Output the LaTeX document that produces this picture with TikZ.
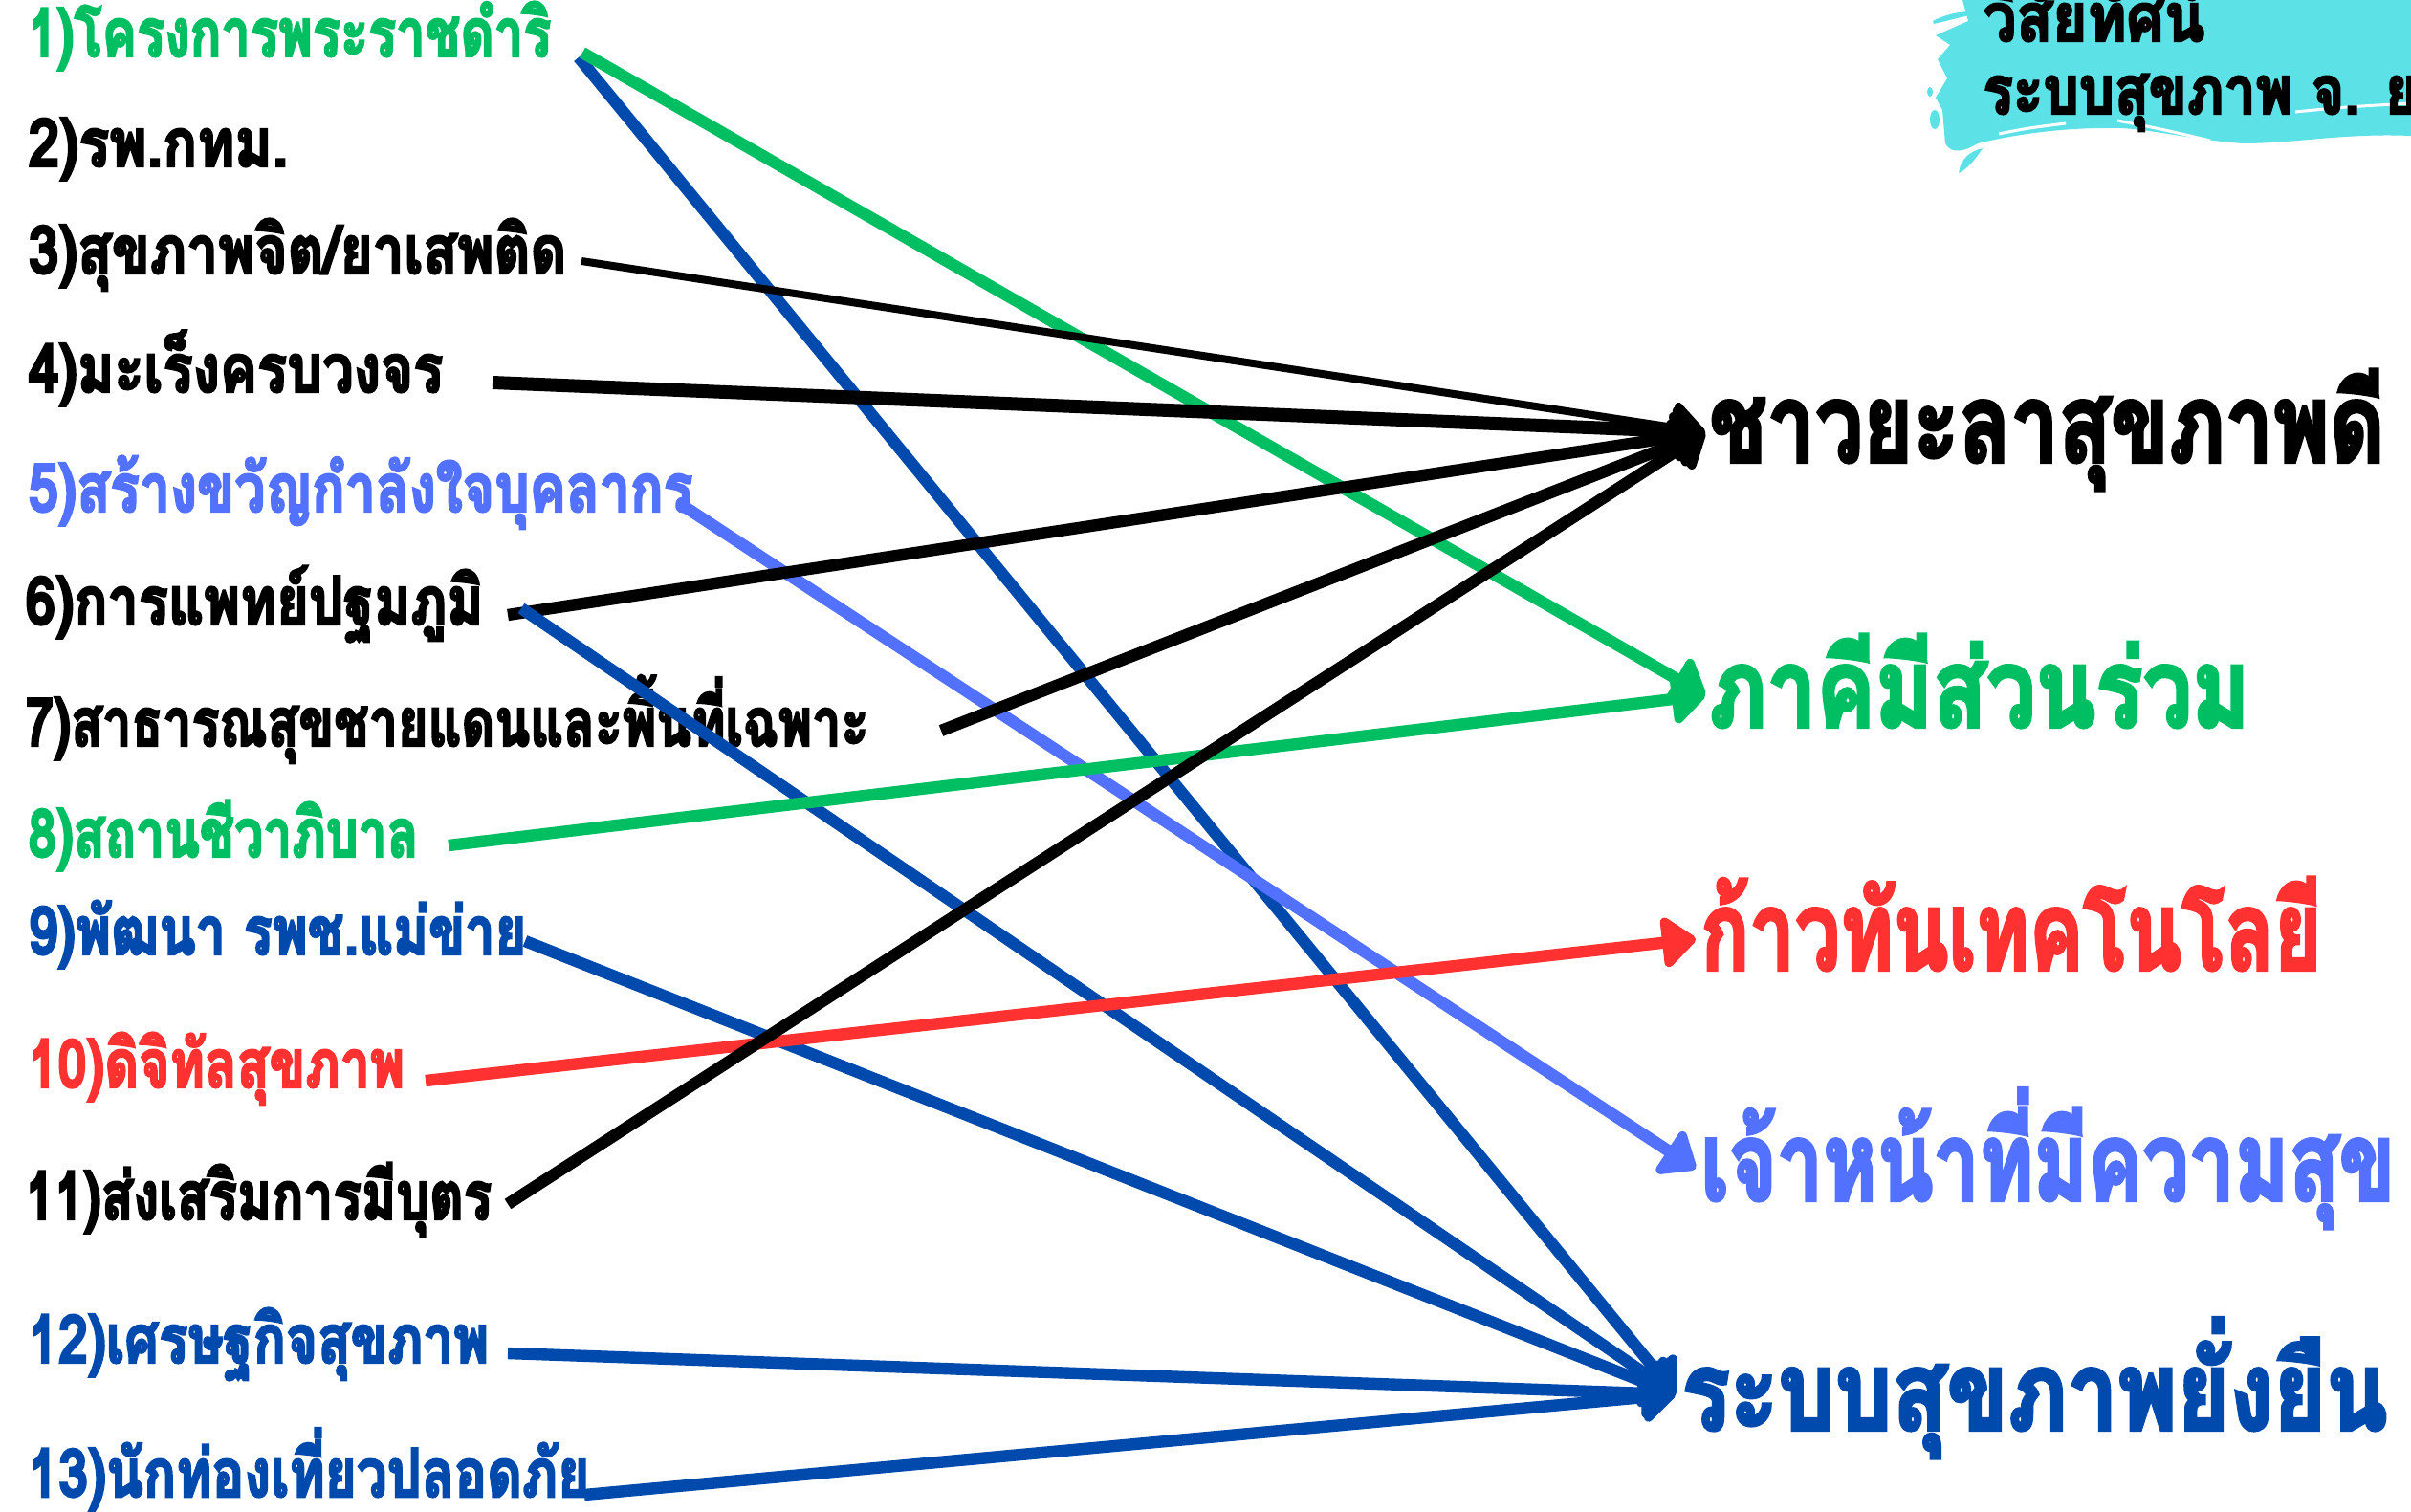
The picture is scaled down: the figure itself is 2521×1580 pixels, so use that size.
\documentclass[tikz,border=0pt]{standalone}
\usepackage{fontspec}
\newfontfamily\thai[Script=Thai, FakeBold=3.5]{Loma}
\usetikzlibrary{arrows.meta}
\definecolor{cgreen}{HTML}{00BF63}
\definecolor{cblue}{HTML}{004AAD}
\definecolor{cperi}{HTML}{5271FF}
\definecolor{cred}{HTML}{FF3131}
\definecolor{ccyan}{HTML}{5CE1E6}
\tikzset{
  lbl/.style={anchor=base west, inner sep=0pt, font=\thai\bfseries\fontsize{35}{40}\selectfont},
  goal/.style={anchor=base west, inner sep=0pt, font=\thai\bfseries\fontsize{57}{64}\selectfont},
  conn/.style={line width=6.2pt, line cap=butt, -{Triangle[length=19pt,width=30pt,round]}},
}
\begin{document}
\begin{tikzpicture}[x=0.5pt,y=-0.5pt]
\useasboundingbox (0,0) rectangle (2521,1580);
\clip (0,0) rectangle (2521,1580);
\fill[white] (0,0) rectangle (2521,1580);
% brush
\fill[ccyan] (2052,0) -- (2521,0) -- (2521,142) .. controls (2450,139) and (2400,150) .. (2345,150)
  .. controls (2280,145) and (2240,132) .. (2200,134) .. controls (2150,134) and (2100,142) .. (2068,150)
  .. controls (2055,158) and (2040,162) .. (2034,150) -- (2031,115) -- (2024,102) -- (2036,82) -- (2026,62)
  -- (2039,47) -- (2024,37) -- (2058,22) -- cycle;
\fill[ccyan] (2048,181) .. controls (2050,166) and (2060,158) .. (2073,155) .. controls (2066,166) and (2058,176) .. (2048,181) -- cycle;
\fill[ccyan] (2021,22) .. controls (2035,15) and (2045,13) .. (2058,12) -- (2060,16) .. controls (2045,19) and (2035,22) .. (2022,25) -- cycle;
\fill[ccyan] (2018,96) ellipse (3 and 5);
\fill[ccyan] (2023,125) ellipse (5 and 10);
\draw[white, line width=1.5pt] (2090,140) .. controls (2120,134) .. (2160,129);
\draw[white, line width=1.5pt] (2214,126) .. controls (2260,135) .. (2311,147);
\draw[white, line width=1.5pt] (2400,117) .. controls (2450,112) .. (2521,108);
\node[lbl, text=black] (v1) at (2073,43) {\resizebox{116pt}{\height}{วิสัยทัศน์}};
\node[lbl, text=black] (v2) at (2073,119) {\resizebox{227.5pt}{\height}{ระบบสุขภาพ จ. ย}};
% left labels
\node[lbl, text=cgreen] (p1) at (29,59) {\resizebox{273.5pt}{\height}{1)โครงการพระราชดำริ}};
\node[lbl, text=black] (p2) at (29,174) {\resizebox{136pt}{\height}{2)รพ.กทม.}};
\node[lbl, text=black] (p3) at (29,286) {\resizebox{281.5pt}{\height}{3)สุขภาพจิต/ยาเสพติด}};
\node[lbl, text=black] (p4) at (29,410) {\resizebox{217pt}{\height}{4)มะเร็งครบวงจร}};
\node[lbl, text=cperi] (p5) at (29,535) {\resizebox{347.5pt}{\height}{5)สร้างขวัญกำลังใจบุคลากร}};
\node[lbl, text=black] (p6) at (26,653) {\resizebox{239.5pt}{\height}{6)การแพทย์ปฐมภูมิ}};
\node[lbl, text=black] (p7) at (26,780) {\resizebox{441pt}{\height}{7)สาธารณสุขชายแดนและพื้นที่เฉพาะ}};
\node[lbl, text=cgreen] (p8) at (29,896) {\resizebox{204pt}{\height}{8)สถานชีวาภิบาล}};
\node[lbl, text=cblue] (p9) at (29,998) {\resizebox{260.5pt}{\height}{9)พัฒนา รพช.แม่ข่าย}};
\node[lbl, text=cred] (p10) at (29,1137) {\resizebox{197pt}{\height}{10)ดิจิทัลสุขภาพ}};
\node[lbl, text=black] (p11) at (26,1275) {\resizebox{244pt}{\height}{11)ส่งเสริมการมีบุตร}};
\node[lbl, text=cblue] (p12) at (29,1425) {\resizebox{241pt}{\height}{12)เศรษฐกิจสุขภาพ}};
\node[lbl, text=cblue] (p13) at (29,1565) {\resizebox{293.5pt}{\height}{13)นักท่องเที่ยวปลอดภัย}};
% goals
\node[goal, text=black] (g1) at (1787,483) {\resizebox{353pt}{\height}{ชาวยะลาสุขภาพดี}};
\node[goal, text=cgreen] (g2) at (1787,760) {\resizebox{282.5pt}{\height}{ภาคีมีส่วนร่วม}};
\node[goal, text=cred] (g3) at (1778,1014) {\resizebox{324.5pt}{\height}{ก้าวทันเทคโนโลยี}};
\node[goal, text=cperi] (g4) at (1778,1255) {\resizebox{363pt}{\height}{เจ้าหน้าที่มีความสุข}};
\node[goal, text=cblue] (g5) at (1758,1495) {\resizebox{369pt}{\height}{ระบบสุขภาพยั่งยืน}};
% connector ends
\coordinate (t1) at (1783,452);
\coordinate (t2) at (1783,727);
\coordinate (t3) at (1773,982);
\coordinate (t4) at (1773,1222);
\coordinate (t5) at (1752,1458);
\coordinate (s1g) at (609,55);
\coordinate (s1b) at (605,60);
\coordinate (s3) at (608,273);
\coordinate (s4) at (515,400);
\coordinate (s5) at (710,526);
\coordinate (s6k) at (531,643);
\coordinate (s6b) at (545,636);
\coordinate (s7) at (984,764);
\coordinate (s8) at (469,884);
\coordinate (s9) at (549,984);
\coordinate (s10) at (445,1130);
\coordinate (s11) at (531,1259);
\coordinate (s12) at (531,1415);
\coordinate (s13) at (611,1563);
% connectors
\draw[conn, cblue] (s1b) -- (t5);
\draw[conn, cgreen] (s1g) -- (t2);
\draw[conn, black, line width=4pt] (s3) -- (t1);
\draw[conn, black, line width=7pt] (s4) -- (t1);
\draw[conn, cperi] (s5) -- (t4);
\draw[conn, black] (s6k) -- (t1);
\draw[conn, cblue] (s6b) -- (t5);
\draw[conn, black] (s7) -- (t1);
\draw[conn, cgreen] (s8) -- (t2);
\draw[conn, cblue] (s9) -- (t5);
\draw[conn, cred] (s10) -- (t3);
\draw[conn, black] (s11) -- (t1);
\draw[conn, cblue] (s12) -- (t5);
\draw[conn, cblue] (s13) -- (t5);
\end{tikzpicture}
\end{document}
